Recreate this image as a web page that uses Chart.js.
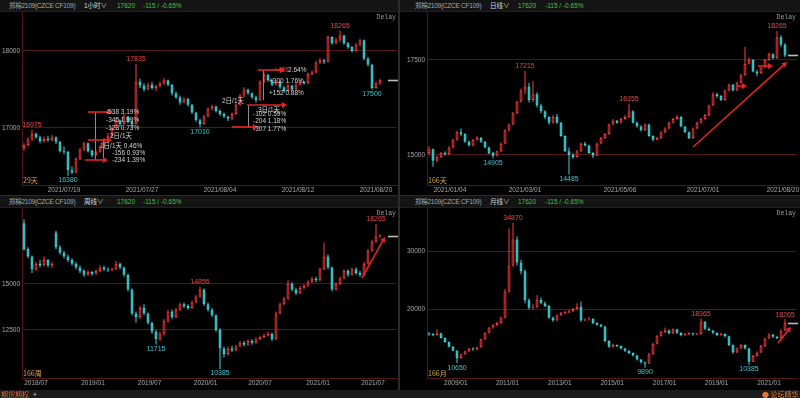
<!DOCTYPE html>
<html>
<head>
<meta charset="utf-8">
<script src="https://cdn.jsdelivr.net/npm/chart.js@4.4.1/dist/chart.umd.min.js"></script>
<style>
  html, body { margin: 0; padding: 0; background: #000; }
  #wrap { position: relative; width: 800px; height: 398px; overflow: hidden; background: #000;
          font-family: "Liberation Sans", "Noto Sans CJK SC", sans-serif; }
  .hdr { position: absolute; height: 11px; background: #141414; border-bottom: 1px solid #3c1414;
         font-size: 6.5px; line-height: 11px; white-space: nowrap;
         font-family: "Liberation Sans", "Noto Sans CJK SC", sans-serif; }
  .hdr span { position: absolute; top: 0; }
  .nm { color: #a8a8a8; letter-spacing: -0.25px; }
  .pd { color: #dcdcdc; }
  .gr { color: #3cc83c; }
  canvas { position: absolute; }
  .vsep { position: absolute; left: 398px; top: 0; width: 2px; height: 390px; background: #2b2b2b; }
  .hsep { position: absolute; left: 0; top: 195px; width: 800px; height: 1px; background: #2b2b2b; }
  .foot { position: absolute; left: 0; top: 390px; width: 800px; height: 8px; background: #1c1c1c;
          font-size: 7px; line-height: 8px; font-family: "Noto Sans CJK SC", sans-serif; }
  .foot span { position: absolute; top: 0; }
</style>
</head>
<body>
<div id="wrap">
  <div class="hdr" style="left:0;top:0;width:398px">
    <span class="nm" style="left:9px">郑棉2109(CZCE CF109)</span>
    <span class="pd" style="left:84px">1小时∨</span>
    <span class="gr" style="left:117px">17620</span>
    <span class="gr" style="left:143px">-115 / -0.65%</span>
  </div>
  <div class="hdr" style="left:400px;top:0;width:400px">
    <span class="nm" style="left:15px">郑棉2109(CZCE CF109)</span>
    <span class="pd" style="left:90px">日线∨</span>
    <span class="gr" style="left:118px">17620</span>
    <span class="gr" style="left:145px">-115 / -0.65%</span>
  </div>
  <div class="hdr" style="left:0;top:196px;width:398px">
    <span class="nm" style="left:9px">郑棉2109(CZCE CF109)</span>
    <span class="pd" style="left:84px">周线∨</span>
    <span class="gr" style="left:117px">17620</span>
    <span class="gr" style="left:143px">-115 / -0.65%</span>
  </div>
  <div class="hdr" style="left:400px;top:196px;width:400px">
    <span class="nm" style="left:15px">郑棉2109(CZCE CF109)</span>
    <span class="pd" style="left:90px">月线∨</span>
    <span class="gr" style="left:118px">17620</span>
    <span class="gr" style="left:145px">-115 / -0.65%</span>
  </div>

  <canvas id="hourChart" width="398" height="183" style="left:0;top:12px"></canvas>
  <canvas id="dayChart" width="400" height="183" style="left:400px;top:12px"></canvas>
  <canvas id="weekChart" width="398" height="182" style="left:0;top:208px"></canvas>
  <canvas id="monthChart" width="400" height="182" style="left:400px;top:208px"></canvas>

  <div class="vsep"></div>
  <div class="hsep"></div>
  <div class="foot">
    <span style="left:1px;color:#e0602a">期货期权</span>
    <span style="left:33px;color:#cccccc">+</span>
    <span style="left:762px;color:#e07a2a">● 论坛精华</span>
  </div>
</div>

<script>
// candles are [open, high, low, close]
const hourCandles = [
  [16740,16800,16700,16780],[16780,16880,16760,16850],[16850,16975,16830,16920],[16920,16940,16860,16880],
  [16880,16900,16800,16830],[16830,16890,16810,16860],[16860,16900,16820,16840],[16840,16910,16830,16880],
  [16880,16890,16790,16820],[16820,16830,16680,16700],[16700,16760,16660,16690],[16690,16700,16380,16450],
  [16450,16500,16400,16420],[16420,16620,16410,16600],[16600,16740,16580,16720],[16720,16820,16700,16800],
  [16800,16810,16680,16700],[16700,16720,16620,16650],[16650,16710,16640,16690],[16690,16780,16680,16760],
  [16760,16870,16740,16850],[16850,16930,16830,16900],[16900,17020,16880,17000],[17000,17130,16980,17100],
  [17100,17110,17020,17050],[17050,17180,17040,17150],[17150,17160,17060,17080],[17080,17100,17010,17050],
  [17050,17835,17040,17600],[17600,17640,17520,17550],[17550,17580,17470,17500],[17500,17590,17490,17560],
  [17560,17600,17500,17520],[17520,17560,17480,17540],[17540,17600,17530,17580],[17580,17650,17560,17620],
  [17620,17630,17540,17560],[17560,17570,17420,17450],[17450,17470,17380,17400],[17400,17420,17300,17330],
  [17330,17400,17320,17380],[17380,17390,17280,17300],[17300,17310,17180,17200],[17200,17210,17080,17100],
  [17100,17120,17010,17050],[17050,17170,17040,17150],[17150,17270,17140,17250],[17250,17300,17230,17280],
  [17280,17290,17200,17220],[17220,17240,17160,17180],[17180,17200,17130,17150],[17150,17160,17090,17120],
  [17120,17200,17100,17180],[17180,17320,17170,17300],[17300,17440,17290,17420],[17420,17530,17400,17500],
  [17500,17510,17430,17450],[17450,17460,17380,17400],[17400,17420,17330,17360],[17360,17620,17350,17600],
  [17600,17720,17580,17690],[17690,17700,17600,17620],[17620,17640,17540,17560],[17560,17620,17550,17600],
  [17600,17610,17510,17530],[17530,17540,17460,17480],[17480,17570,17470,17550],[17550,17560,17480,17500],
  [17500,17580,17490,17560],[17560,17620,17550,17600],[17600,17610,17560,17580],[17580,17720,17570,17700],
  [17700,17750,17680,17720],[17720,17870,17710,17850],[17850,17910,17830,17880],[17880,17900,17830,17860],
  [17860,18200,17850,18180],[18180,18190,18080,18100],[18100,18170,18090,18150],[18150,18265,18120,18200],
  [18200,18210,18080,18100],[18100,18120,18030,18050],[18050,18060,17980,18000],[18000,18100,17990,18080],
  [18080,18160,18060,18140],[18140,18150,17880,17900],[17900,17920,17800,17820],[17820,17830,17500,17520],
  [17520,17600,17510,17580],[17580,17640,17560,17620]
];
const hourTickIdx = [10, 29.5, 49, 68.5, 88];
const hourTickLabels = ["2021/07/19", "2021/07/27", "2021/08/04", "2021/08/12", "2021/08/20"];
const hourYTicks = [17000, 18000];

const dayCandles = [
  [15050,15230,15000,15150],[15150,15170,14690,14850],[14850,14980,14820,14950],[14950,15080,14930,15050],
  [15050,15100,14980,15020],[15020,15230,15000,15200],[15200,15430,15180,15400],[15400,15640,15380,15600],
  [15600,15700,15500,15550],[15550,15570,15320,15350],[15350,15380,15220,15250],[15250,15430,15230,15400],
  [15400,15500,15380,15450],[15450,15470,15320,15350],[15350,15370,15180,15200],[15200,15220,15020,15050],
  [15050,15080,14905,14980],[14980,15120,14960,15100],[15100,15330,15080,15300],[15300,15680,15280,15650],
  [15650,15830,15620,15800],[15800,16130,15780,16100],[16100,16430,16080,16400],[16400,16750,16380,16700],
  [16700,17215,16600,16800],[16800,16900,16380,16450],[16450,16950,16400,16600],[16600,16650,16250,16300],
  [16300,16350,16100,16150],[16150,16180,15950,16000],[16000,16020,15800,15850],[15850,16050,15830,16000],
  [16000,16080,15820,15850],[15850,15870,15480,15500],[15500,15520,15080,15100],[15100,15200,14485,15000],
  [15000,15050,14900,14950],[14950,15130,14930,15100],[15100,15330,15080,15300],[15300,15350,15220,15250],
  [15250,15270,15030,15050],[15050,15080,14920,14980],[14980,15330,14960,15300],[15300,15480,15280,15450],
  [15450,15580,15430,15550],[15550,15830,15530,15800],[15800,15950,15780,15900],[15900,15920,15820,15850],
  [15850,15980,15830,15950],[15950,16050,15930,16000],[16000,16355,15980,16150],[16150,16170,15830,15850],
  [15850,15880,15720,15750],[15750,15780,15620,15650],[15650,15830,15630,15800],[15800,15820,15480,15500],
  [15500,15520,15360,15400],[15400,15480,15380,15450],[15450,15630,15430,15600],[15600,15730,15580,15700],
  [15700,15880,15680,15850],[15850,15980,15830,15950],[15950,16050,15930,16000],[16000,16020,15730,15750],
  [15750,15770,15580,15600],[15600,15620,15420,15450],[15450,15730,15430,15700],[15700,15880,15680,15850],
  [15850,15980,15830,15950],[15950,16080,15930,16050],[16050,16330,16030,16300],[16300,16650,16280,16600],
  [16600,16640,16500,16550],[16550,16580,16420,16450],[16450,16730,16430,16700],[16700,16880,16680,16850],
  [16850,16870,16680,16700],[16700,16930,16680,16900],[16900,17130,16880,17100],[17100,17850,17080,17400],
  [17400,17560,17380,17500],[17500,17520,17180,17200],[17200,17230,17080,17150],[17150,17330,17130,17300],
  [17300,17530,17280,17500],[17500,17700,17480,17650],[17650,17680,17520,17550],[17550,18265,17530,18100],
  [18100,18150,17850,17900],[17900,17950,17580,17620]
];
const dayTickIdx = [5.25, 24, 47.75, 68.5, 88.5];
const dayTickLabels = ["2021/01/04", "2021/03/01", "2021/05/06", "2021/07/01", "2021/08/20"];
const dayYTicks = [15000, 17500];

const weekCandles = [
  [18300,18500,16800,16900],[16900,17000,16400,16500],[16500,16550,15600,15800],[15800,16200,15700,16100],
  [16100,16300,15900,16000],[16000,16500,15950,16300],[16300,16350,15900,16000],[16000,16200,15850,16100],
  [17800,17900,16900,17000],[17000,17100,16600,16700],[16700,16800,16400,16500],[16500,16600,16200,16300],
  [16300,16400,16000,16100],[16100,16200,15800,15900],[15900,16000,15600,15700],[15700,15800,15400,15500],
  [15500,15750,15450,15650],[15650,15700,15450,15550],[15550,15800,15500,15700],[15700,16000,15650,15900],
  [15900,16000,15700,15800],[15800,15900,15650,15750],[15750,15900,15700,15800],[15800,16250,15750,16100],
  [16100,16150,15800,15900],[15900,15950,15400,15500],[15500,15550,14600,14700],[14700,14750,13300,13400],
  [13400,13500,12900,13200],[13200,13800,13100,13700],[13700,13900,13300,13400],[13400,13450,12800,12900],
  [12900,12950,12300,12400],[12400,12500,11715,12000],[12000,12400,11900,12300],[12300,13100,12200,13000],
  [13000,13600,12900,13500],[13500,13600,13100,13200],[13200,13700,13150,13600],[13600,14000,13550,13900],
  [13900,14000,13700,13800],[13800,13900,13600,13700],[13700,14100,13650,14000],[14000,14400,13950,14300],
  [14300,14855,14250,14700],[14700,14750,13800,13900],[13900,14000,13500,13600],[13600,13700,13200,13300],
  [13300,13350,12400,12500],[12500,12600,10385,11500],[11500,11600,11000,11200],[11200,11600,11100,11500],
  [11500,11650,11300,11400],[11400,11700,11350,11600],[11600,11900,11550,11800],[11800,11900,11600,11700],
  [11700,12000,11650,11900],[11900,12000,11700,11800],[11800,12100,11750,12000],[12000,12200,11950,12100],
  [12100,12300,12050,12200],[12200,12400,12150,12300],[12300,12350,11900,12000],[12000,13500,11950,13400],
  [13400,14000,13350,13900],[13900,14300,13850,14200],[14200,15200,14150,15000],[15000,15100,14600,14700],
  [14700,14800,14400,14500],[14500,14900,14450,14800],[14800,15000,14700,14900],[14900,15200,14850,15100],
  [15100,15400,15050,15300],[15300,15400,15100,15200],[15200,15900,15150,15800],[15800,17250,15750,16500],
  [16500,16600,15800,15900],[15900,15950,14600,14700],[14700,15100,14650,15000],[15000,15400,14950,15300],
  [15300,15800,15250,15700],[15700,15800,15400,15500],[15500,15900,15450,15800],[15800,15900,15500,15600],
  [15600,15700,15400,15500],[15500,16200,15450,16100],[16100,16900,16050,16800],[16800,17400,16750,17300],
  [17300,18265,17250,17600],[17600,17700,17500,17620]
];
const weekTickIdx = [3, 17.25, 31.4, 45.4, 59, 73.5, 87.25];
const weekTickLabels = ["2018/07", "2019/01", "2019/07", "2020/01", "2020/07", "2021/01", "2021/07"];
const weekYTicks = [12500, 15000];

const monthCandles = [
  [15800,16000,15400,15600],[15600,15800,15300,15500],[15500,16500,15400,15800],[15800,15900,14900,15000],
  [15000,15100,14200,14300],[14300,14400,13400,13500],[13500,13600,12700,12800],[12800,12900,10650,11500],
  [11500,12300,11400,12200],[12200,12800,12100,12700],[12700,13300,12600,13200],[13200,13400,12800,13000],
  [13000,13500,12900,13400],[13400,14900,13300,14800],[14800,16000,14700,15900],[15900,16900,15800,16800],
  [16800,17400,16600,17200],[17200,17800,17000,17600],[17600,18700,17500,18500],[18500,23500,18400,23000],
  [23000,33900,22800,27500],[27500,34870,27300,32000],[32000,32500,27500,28000],[28000,28500,26000,26500],
  [26500,26800,21000,21500],[21500,21800,19900,20200],[20200,20800,19900,20300],[20300,22400,20200,21600],
  [21600,22000,20800,21000],[21000,21300,20300,20500],[20500,20700,18300,18500],[18500,18700,17800,18000],
  [18000,19100,17900,18900],[18900,19500,18800,19300],[19300,19700,19100,19400],[19400,19900,19300,19600],
  [19600,20200,19500,20000],[20000,21000,19900,20400],[20400,21300,17800,18000],[18000,18400,17900,18200],
  [18200,18600,18000,18300],[18300,18400,17400,17600],[17600,17700,17100,17300],[17300,17400,16800,17000],
  [17000,17100,14300,14500],[14500,14600,13300,13500],[13500,14000,13400,13800],[13800,13900,13400,13600],
  [13600,13700,13000,13200],[13200,13300,12600,12800],[12800,12900,12200,12400],[12400,12500,11800,12000],
  [12000,12100,11100,11300],[11300,11400,10600,10800],[10800,10900,9890,10600],[10600,12400,10500,12200],
  [12200,14200,12100,14000],[14000,15500,13900,15300],[15300,16300,15200,16000],[16000,16800,15800,16300],
  [16300,16500,15600,15800],[15800,16700,15700,16500],[16500,16600,15700,15900],[15900,16000,15300,15500],
  [15500,15900,15400,15700],[15700,16000,15500,15800],[15800,15900,15400,15600],[15600,15900,15500,15700],
  [15700,18365,15600,17800],[17800,17900,16400,16600],[16600,16800,16200,16300],[16300,16400,15700,15900],
  [15900,16000,15300,15500],[15500,15900,15400,15700],[15700,15800,15100,15300],[15300,15400,13600,13800],
  [13800,13900,12300,12500],[12500,13400,12400,13200],[13200,14000,13100,13800],[13800,13900,13000,13200],
  [13200,13300,10385,10900],[10900,12100,10800,11900],[11900,12700,11800,12500],[12500,13800,12400,13600],
  [13600,15100,13500,14900],[14900,15800,14800,15600],[15600,15700,15000,15200],[15200,15400,14800,15000],
  [15000,16500,14900,16300],[16300,18265,16200,17620]
];
const monthTickIdx = [6.7, 19.6, 32.7, 45.8, 58.9, 71.9, 85];
const monthTickLabels = ["2009/01", "2011/01", "2013/01", "2015/01", "2017/01", "2019/01", "2021/01"];
const monthYTicks = [20000, 30000];

// marked highs (h) / lows (l) by candle index
const hourMarks = [[2, "h"], [11, "l"], [28, "h"], [44, "l"], [79, "h"], [87, "l"]];
const dayMarks = [[24, "h"], [16, "l"], [50, "h"], [35, "l"], [87, "h"]];
const weekMarks = [[44, "h"], [33, "l"], [49, "l"], [88, "h"]];
const monthMarks = [[21, "h"], [7, "l"], [54, "l"], [68, "h"], [80, "l"], [89, "h"]];

// drawn arrows: [fromIdx, fromPrice, toIdx, toPrice]
const hourArrows = [
  [16, 17207, 22, 17207], [16, 16844, 22, 16844], [15.25, 16584, 21, 16584],
  [58.5, 17753, 65.25, 17753], [55.75, 17298, 65.75, 17298], [52, 17013, 58.5, 17013]
];
const dayArrows = [[66, 15210, 89.5, 17447], [77, 16816, 79.5, 16816], [82.25, 17342, 86, 17342]];
const weekArrows = [[84.5, 15326, 90.25, 17554]];
const monthArrows = [[87.25, 14140, 90.5, 16898]];

// measuring notes on the hourly chart
const hourGuides = [[17.75, 17207, 16584], [19.75, 16844, 16584], [59.75, 17753, 17363], [56, 17298, 17000]];
const hourNotes = [
  [20.5, 17207, "-538 3.19%"], [20.5, 17103, "-345 1.99%"], [20.5, 17000, "-123 0.73%"],
  [21.5, 16896, "2日/1天"], [19, 16766, "1日/1天 0.46%"], [22, 16675, "-156 0.93%"], [22, 16584, "-234 1.39%"],
  [62.5, 17753, "+455", "#ff3030"], [66, 17753, "2.64%"], [61.25, 17610, "+300 1.76%"], [61.25, 17454, "+152 0.88%"],
  [49.5, 17350, "2日/1天"], [58.5, 17233, "3日/1天"], [57.25, 17181, "-102 0.59%"],
  [57.25, 17090, "-204 1.18%"], [57.25, 16987, "-307 1.77%"]
];

const UP = "#ff3a3a";
const DOWN = "#3ed6dc";
const GRID = "#4f1616";
const TXT = "#a8a8a8";
const FONT = "'Liberation Sans', 'Noto Sans CJK SC', sans-serif";

function drawArrow(ctx, x1, y1, x2, y2) {
  const a = Math.atan2(y2 - y1, x2 - x1);
  const h = 5;
  const w = 3;
  ctx.strokeStyle = "#e42424";
  ctx.fillStyle = "#e42424";
  ctx.lineWidth = 1.6;
  ctx.beginPath();
  ctx.moveTo(x1, y1);
  ctx.lineTo(x2 - h * Math.cos(a), y2 - h * Math.sin(a));
  ctx.stroke();
  ctx.beginPath();
  ctx.moveTo(x2, y2);
  ctx.lineTo(x2 - h * Math.cos(a) + w * Math.sin(a), y2 - h * Math.sin(a) - w * Math.cos(a));
  ctx.lineTo(x2 - h * Math.cos(a) - w * Math.sin(a), y2 - h * Math.sin(a) + w * Math.cos(a));
  ctx.closePath();
  ctx.fill();
}

function overlay(candles, spec) {
  return {
    id: "overlay",
    afterDatasetsDraw(chart) {
      const ctx = chart.ctx;
      const X = (v) => chart.scales.x.getPixelForValue(v);
      const Y = (v) => chart.scales.y.getPixelForValue(v);
      const area = chart.chartArea;
      ctx.save();

      ctx.strokeStyle = "#8c8c8c";
      ctx.lineWidth = 1;
      for (const g of spec.guides || []) {
        const x = Math.round(X(g[0])) + 0.5;
        ctx.beginPath();
        ctx.moveTo(x, Y(g[1]));
        ctx.lineTo(x, Y(g[2]));
        ctx.stroke();
      }

      for (const a of spec.arrows || []) {
        drawArrow(ctx, X(a[0]), Y(a[1]), X(a[2]), Y(a[3]));
      }

      ctx.font = "6.5px " + FONT;
      ctx.textAlign = "left";
      ctx.textBaseline = "middle";
      for (const n of spec.notes || []) {
        ctx.fillStyle = n[3] || "#d2d2d2";
        ctx.fillText(n[2], X(n[0]), Y(n[1]));
      }

      ctx.font = "7px " + FONT;
      ctx.textAlign = "center";
      for (const m of spec.marks) {
        const c = candles[m[0]];
        if (m[1] === "h") {
          ctx.fillStyle = "#e84646";
          ctx.textBaseline = "bottom";
          ctx.fillText(String(c[1]), X(m[0]), Y(c[1]) - 1);
        } else {
          ctx.fillStyle = "#3cc4cc";
          ctx.textBaseline = "top";
          ctx.fillText(String(c[2]), X(m[0]), Y(c[2]) + 1);
        }
      }

      // corner texts
      ctx.textAlign = "left";
      ctx.textBaseline = "bottom";
      ctx.fillStyle = "#d8a848";
      ctx.font = "7px 'Noto Sans CJK SC', sans-serif";
      ctx.fillText(spec.span, area.left + 1, area.bottom - 1);
      ctx.textAlign = "right";
      ctx.textBaseline = "middle";
      ctx.fillStyle = "#9a9a9a";
      ctx.font = "6.5px 'Liberation Mono', monospace";
      ctx.fillText("Delay", area.right - 1, area.top + 5);

      // last price marker
      const last = candles[candles.length - 1][3];
      ctx.strokeStyle = "#bdbdbd";
      ctx.beginPath();
      ctx.moveTo(area.right - 9, Math.round(Y(last)) + 0.5);
      ctx.lineTo(area.right + 1, Math.round(Y(last)) + 0.5);
      ctx.stroke();

      ctx.restore();
    },
  };
}

function makeCandleChart(canvasId, candles, cfg, spec) {
  const isUp = candles.map((c) => c[3] >= c[0]);
  const wicks = candles.map((c, i) => ({ x: i, y: [c[2], c[1]] }));
  const bodies = candles.map((c, i) => ({ x: i, y: [c[0], c[3]] }));

  return new Chart(document.getElementById(canvasId), {
    type: "bar",
    data: {
      datasets: [
        {
          data: wicks,
          backgroundColor: isUp.map((u) => (u ? UP : DOWN)),
          borderWidth: 0,
          barThickness: 1,
          grouped: false,
          inflateAmount: 0,
        },
        {
          data: bodies,
          backgroundColor: isUp.map((u) => (u ? "#000000" : DOWN)),
          borderColor: isUp.map((u) => (u ? UP : DOWN)),
          borderWidth: 1,
          borderSkipped: false,
          barThickness: 3,
          minBarLength: 1,
          grouped: false,
          inflateAmount: 0,
        },
      ],
    },
    options: {
      responsive: false,
      animation: false,
      events: [],
      layout: { padding: { left: 0, right: cfg.padR, top: 0, bottom: 0 } },
      plugins: { legend: { display: false }, tooltip: { enabled: false } },
      scales: {
        x: {
          type: "linear",
          min: -0.5,
          max: cfg.xMax,
          offset: false,
          grid: { display: false, drawTicks: false },
          border: { display: true, color: GRID },
          ticks: {
            autoSkip: false,
            maxRotation: 0,
            padding: 1,
            color: TXT,
            font: { size: 6.5, family: FONT },
            callback: (v, i) => cfg.tickLabels[i],
          },
          afterBuildTicks: (s) => {
            s.ticks = cfg.tickIdx.map((v) => ({ value: v }));
          },
          afterFit: (s) => {
            s.height = cfg.xH;
            s.paddingLeft = 0;
            s.paddingRight = 0;
          },
        },
        y: {
          min: cfg.yMin,
          max: cfg.yMax,
          position: "left",
          grid: { color: GRID, drawTicks: false },
          border: { display: true, color: GRID },
          ticks: {
            padding: 2,
            color: TXT,
            font: { size: 6.5, family: FONT },
            callback: (v) => String(v),
          },
          afterBuildTicks: (s) => {
            s.ticks = cfg.yTicks.map((v) => ({ value: v }));
          },
          afterFit: (s) => {
            s.width = cfg.axisW;
            s.paddingTop = 0;
            s.paddingBottom = 0;
          },
        },
      },
    },
    plugins: [overlay(candles, spec)],
  });
}

makeCandleChart(
  "hourChart",
  hourCandles,
  { yMin: 16259, yMax: 18506, yTicks: hourYTicks, xMax: 93.25, tickIdx: hourTickIdx,
    tickLabels: hourTickLabels, axisW: 22, padR: 1, xH: 10 },
  { marks: hourMarks, arrows: hourArrows, guides: hourGuides, notes: hourNotes, span: "29天" }
);

makeCandleChart(
  "dayChart",
  dayCandles,
  { yMin: 14210, yMax: 18763, yTicks: dayYTicks, xMax: 92, tickIdx: dayTickIdx,
    tickLabels: dayTickLabels, axisW: 27, padR: 3, xH: 10 },
  { marks: dayMarks, arrows: dayArrows, span: "166天" }
);

makeCandleChart(
  "weekChart",
  weekCandles,
  { yMin: 9891, yMax: 19130, yTicks: weekYTicks, xMax: 93.25, tickIdx: weekTickIdx,
    tickLabels: weekTickLabels, axisW: 22, padR: 1, xH: 12 },
  { marks: weekMarks, arrows: weekArrows, span: "166周" }
);

makeCandleChart(
  "monthChart",
  monthCandles,
  { yMin: 8104, yMax: 37414, yTicks: monthYTicks, xMax: 92, tickIdx: monthTickIdx,
    tickLabels: monthTickLabels, axisW: 27, padR: 3, xH: 12 },
  { marks: monthMarks, arrows: monthArrows, span: "166月" }
);
</script>
</body>
</html>
